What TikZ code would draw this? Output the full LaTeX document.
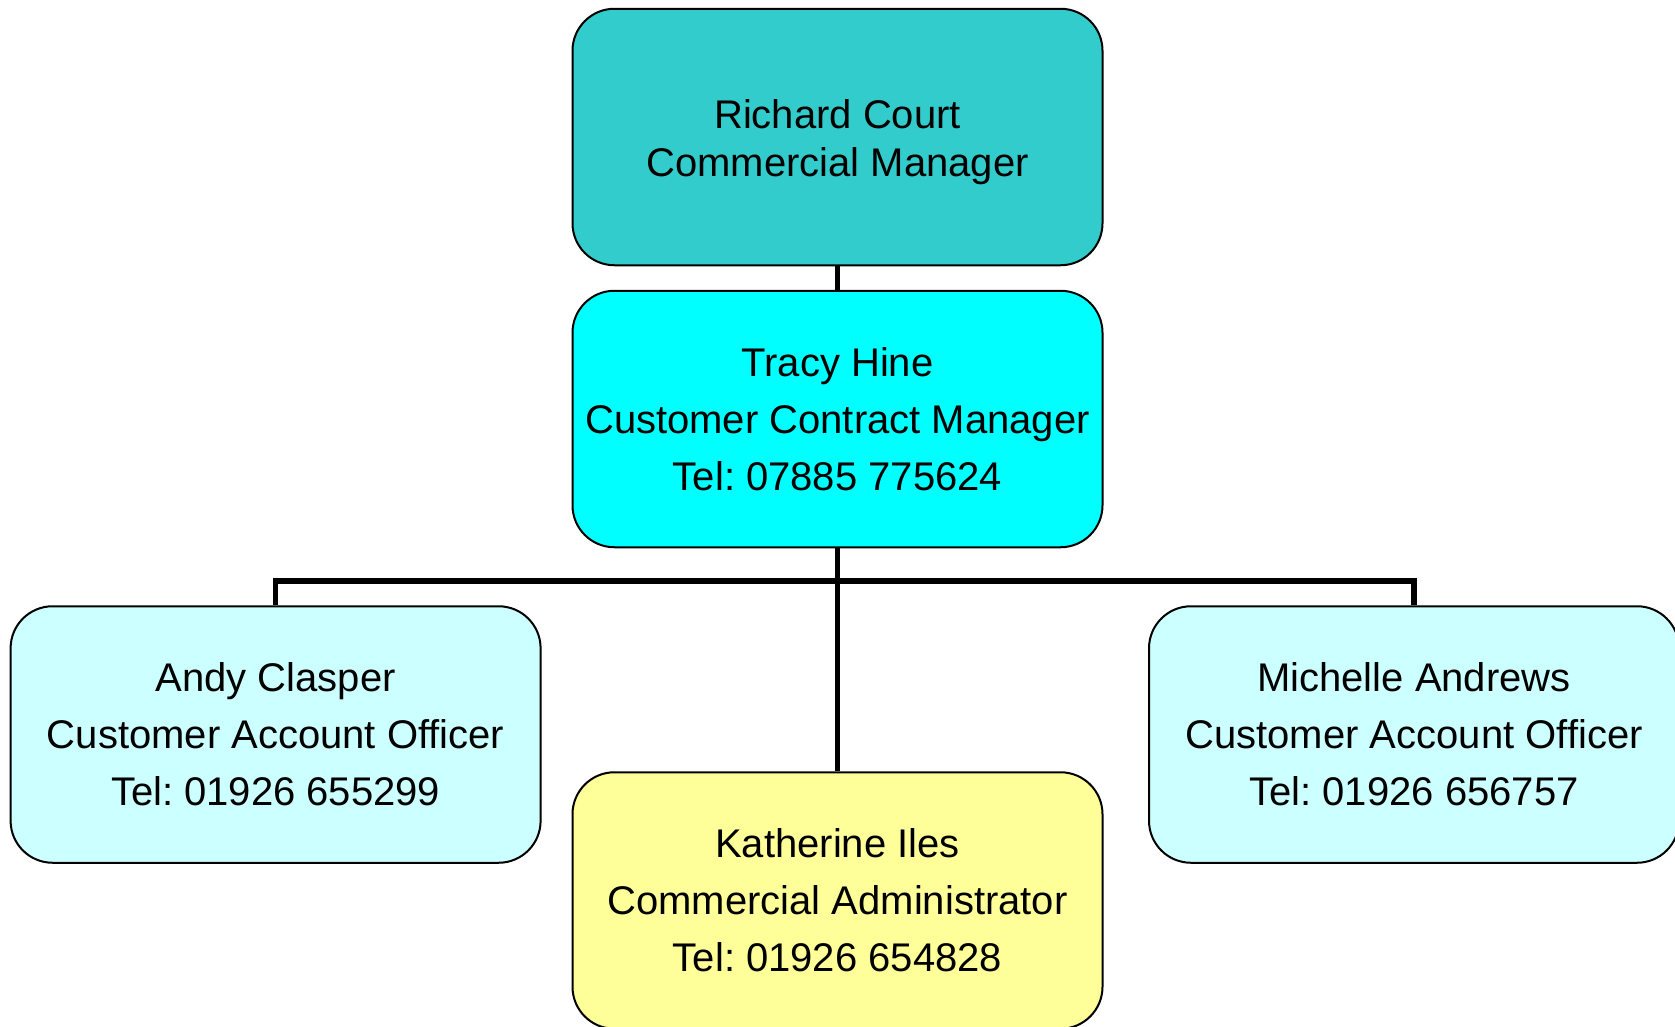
\documentclass[tikz,border=0pt]{standalone}
\usepackage{fontspec}
\setmainfont{Liberation Sans}
\definecolor{topc}{HTML}{33CCCC}
\definecolor{midc}{HTML}{00FFFF}
\definecolor{sidec}{HTML}{CCFFFF}
\definecolor{yelc}{HTML}{FFFF99}
\tikzset{
  orgbox/.style={draw=black, line width=2pt, rounded corners=42pt, minimum width=530pt, minimum height=256.5pt, inner sep=0pt, align=center, font=\fontsize{40}{57}\selectfont\frenchspacing},
  conn/.style={draw=black, line width=5.5pt, line join=miter}
}
\begin{document}
\begin{tikzpicture}[x=1pt,y=-1pt]
\useasboundingbox (0,0) rectangle (1675,1026);
\clip (0,0) rectangle (1675,1026);
\node[orgbox, fill=topc, font=\fontsize{40}{48}\selectfont\frenchspacing] (richard) at (837.5,137) {\rule{0pt}{40pt}Richard Court\\Commercial Manager};
\node[orgbox, fill=midc] (tracy) at (837.5,419) {Tracy Hine\\Customer Contract Manager\\Tel: 07885 775624};
\node[orgbox, fill=sidec] (andy) at (275.6,734.5) {Andy Clasper\\Customer Account Officer\\Tel: 01926 655299};
\node[orgbox, fill=yelc] (kath) at (837.5,900.5) {Katherine Iles\\Commercial Administrator\\Tel: 01926 654828};
\node[orgbox, fill=sidec] (mich) at (1414,734.5) {Michelle Andrews\\Customer Account Officer\\Tel: 01926 656757};
\coordinate (bus) at (837.5,581);
\draw[conn] (richard.south) -- (tracy.north);
\draw[conn] (tracy.south) -- (kath.north);
\draw[conn] (andy.north) -- (andy.north |- bus) -- (mich.north |- bus) -- (mich.north);
\end{tikzpicture}
\end{document}
